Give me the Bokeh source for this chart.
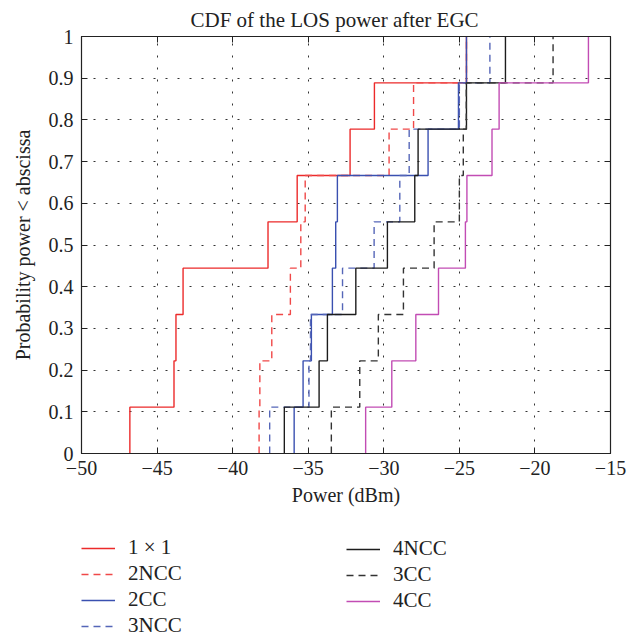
import numpy as np
from bokeh.plotting import figure
from bokeh.layouts import column
from bokeh.models import FixedTicker, LinearAxis, Legend, LegendItem, Range1d
from bokeh.embed import file_html
from bokeh.resources import INLINE

# ---- data (sorted samples of each CDF, dBm) ----
names = ["1 × 1", "2NCC", "2CC", "3NCC", "4NCC", "3CC", "4CC"]
s_1x1 = [-46.80, -43.88, -43.75, -43.28, -37.66, -35.73, -32.23, -30.62, -24.53]
s_2ncc = [-38.25, -38.20, -37.41, -36.18, -35.49, -35.20, -29.65, -28.03, -24.53]
s_2cc = [-35.93, -35.34, -34.79, -33.40, -33.18, -33.07, -27.07, -25.06, -24.53]
s_3ncc = [-37.55, -34.95, -34.85, -32.73, -30.64, -28.94, -28.32, -25.00, -22.98]
s_4ncc = [-36.58, -34.28, -33.73, -31.85, -29.76, -27.95, -27.73, -24.53, -21.95]
s_3cc = [-33.47, -31.59, -30.36, -28.70, -26.67, -25.00, -24.74, -24.54, -18.80]
s_4cc = [-31.20, -29.47, -27.88, -26.38, -24.60, -24.50, -22.84, -22.37, -16.46]
series = [s_1x1, s_2ncc, s_2cc, s_3ncc, s_4ncc, s_3cc, s_4cc]

x_ticks = [-50, -45, -40, -35, -30, -25, -20, -15]
y_ticks = [0, 0.1, 0.2, 0.3, 0.4, 0.5, 0.6, 0.7, 0.8, 0.9, 1]
x_tick_labels = ["−50", "−45", "−40", "−35", "−30", "−25", "−20", "−15"]
y_tick_labels = ["0", "0.1", "0.2", "0.3", "0.4", "0.5", "0.6", "0.7", "0.8", "0.9", "1"]

colors = ["#ec2a2a", "#f04848", "#3a50b0", "#5566b8", "#1c1c1c", "#333333", "#c24cb4"]
dashes = ["solid", "7 5", "solid", "7 5", "solid", "7 5", "solid"]

FONT = "Liberation Serif"

p = figure(width=643, height=520, output_backend="svg", toolbar_location=None,
           x_range=Range1d(-50, -15), y_range=Range1d(0, 1),
           min_border_left=81, min_border_right=33, min_border_top=36,
           min_border_bottom=67, background_fill_color="white",
           border_fill_color="white")

p.title.text = "CDF of the LOS power after EGC"
p.title.align = "left"
p.title.offset = 109
p.title.text_font = FONT
p.title.text_font_size = "21px"
p.title.text_font_style = "normal"
p.title.text_color = "#222222"

p.outline_line_color = "#222222"
p.outline_line_width = 1.2

xt = FixedTicker(ticks=x_ticks)
yt = FixedTicker(ticks=y_ticks)

for ax in [p.xaxis[0], p.yaxis[0]]:
    ax.major_tick_in = 6
    ax.major_tick_out = 0
    ax.minor_tick_line_color = None
    ax.axis_line_color = "#222222"
    ax.major_tick_line_color = "#222222"
    ax.major_label_text_font = FONT
    ax.major_label_text_font_size = "20px"
    ax.major_label_text_color = "#222222"
    ax.axis_label_text_font = FONT
    ax.axis_label_text_font_size = "20px"
    ax.axis_label_text_font_style = "normal"
    ax.axis_label_text_color = "#222222"

p.xaxis[0].ticker = xt
p.yaxis[0].ticker = yt
p.xaxis[0].major_label_overrides = dict(zip(x_ticks, x_tick_labels))
p.yaxis[0].major_label_overrides = dict(zip(y_ticks, y_tick_labels))
p.xaxis[0].axis_label = "Power (dBm)"
p.yaxis[0].axis_label = "Probability power < abscissa"
p.xaxis[0].major_label_standoff = 7
p.xaxis[0].axis_label_standoff = 6
p.yaxis[0].major_label_standoff = 8
p.yaxis[0].axis_label_standoff = 12

# box ticks on top and right
for loc, tk, tl in [("above", xt, x_ticks), ("right", yt, y_ticks)]:
    a = LinearAxis(ticker=tk)
    a.major_tick_in = 6
    a.major_tick_out = 0
    a.minor_tick_line_color = None
    a.axis_line_color = "#222222"
    a.major_tick_line_color = "#222222"
    a.major_label_overrides = {t: "" for t in tl}
    a.major_label_text_font_size = "0px"
    a.major_label_standoff = 0
    p.add_layout(a, loc)

for g in [p.xgrid[0], p.ygrid[0]]:
    g.grid_line_color = "#333333"
    g.grid_line_dash = "2 10"
    g.grid_line_width = 1
p.xgrid[0].ticker = xt
p.ygrid[0].ticker = yt

levels = [k / 9 for k in range(10)]
for vals, c, d in zip(series, colors, dashes):
    xs = [vals[0]] + list(vals)
    p.step(xs, levels, mode="after", line_color=c, line_width=1.4, line_dash=d)

# ---- legend strip below the plot ----
q = figure(width=643, height=117, output_backend="svg", toolbar_location=None,
           x_axis_location=None, y_axis_location=None,
           min_border=0, background_fill_color="white", border_fill_color="white")
q.outline_line_color = None
q.grid.visible = False

legend_renderers = []
for c, d in zip(colors, dashes):
    r = q.line(x=[np.nan], y=[np.nan], line_color=c, line_width=1.4, line_dash=d)
    legend_renderers.append(r)

def make_legend(idx, loc):
    items = [LegendItem(label=names[i], renderers=[legend_renderers[i]]) for i in idx]
    lg = Legend(items=items, location=loc, orientation="vertical")
    lg.background_fill_alpha = 0
    lg.border_line_color = None
    lg.padding = 0
    lg.margin = 0
    lg.spacing = 1
    lg.glyph_width = 34
    lg.glyph_height = 24
    lg.label_height = 24
    lg.label_standoff = 13
    lg.label_text_font = FONT
    lg.label_text_font_size = "21px"
    lg.label_text_color = "#222222"
    return lg

q.add_layout(make_legend([0, 1, 2, 3], (0, -1)))
q.add_layout(make_legend([4, 5, 6], (265, 24)))

layout = column(p, q, spacing=0)
open("out.html", "w").write(file_html(layout, INLINE))
